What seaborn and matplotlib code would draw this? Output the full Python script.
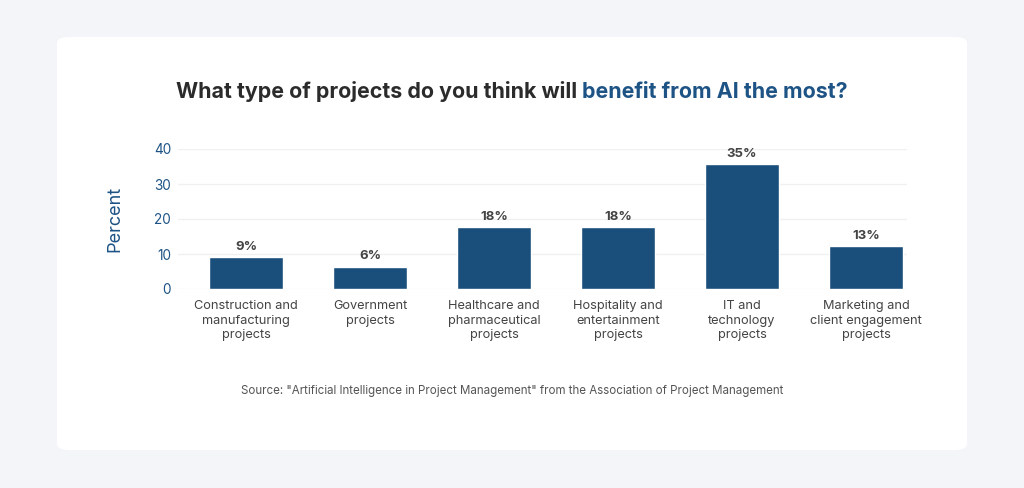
import matplotlib
matplotlib.use("Agg")
import matplotlib.pyplot as plt
import pandas as pd
import seaborn as sns
from matplotlib.patches import FancyBboxPatch

# Data
categories = [
    "Construction and\nmanufacturing\nprojects",
    "Government\nprojects",
    "Healthcare and\npharmaceutical\nprojects",
    "Hospitality and\nentertainment\nprojects",
    "IT and\ntechnology\nprojects",
    "Marketing and\nclient engagement\nprojects",
]
percent = [9.1, 6.4, 17.7, 17.7, 35.6, 12.3]
value_labels = ["9%", "6%", "18%", "18%", "35%", "13%"]
y_ticks = [0, 10, 20, 30, 40]

df = pd.DataFrame({"Category": categories, "Percent": percent})

BAR = "#1b4f7b"
BLUE = "#1d5385"
DARK = "#2b2b2b"
GRAY = "#444444"

sns.set_style("white")
plt.rcParams["font.family"] = ["Inter", "DejaVu Sans"]

fig = plt.figure(figsize=(10.24, 4.88), dpi=100)
fig.patch.set_facecolor("#f4f5f9")

# White card behind the chart
card = FancyBboxPatch((57 / 1024, 1 - 450 / 488), 910 / 1024, 413 / 488,
                      boxstyle="round,pad=0,rounding_size=0.012",
                      transform=fig.transFigure, facecolor="white",
                      edgecolor="none", zorder=-5)
fig.patches.append(card)

ax = fig.add_axes([178 / 1024, 1 - 289 / 488, 729 / 1024, 140 / 488])
ax.set_zorder(2)
ax.patch.set_alpha(0)
sns.barplot(data=df, x="Category", y="Percent", color=BAR, width=0.6,
            saturation=1, ax=ax, zorder=3)
ax.set_xlim(-0.55, 5.33)
ax.set_ylim(0, 40)
ax.set_yticks(y_ticks)
ax.yaxis.grid(True, color="#f0f0f0", linewidth=1, zorder=0)
ax.set_axisbelow(True)
for s in ax.spines.values():
    s.set_visible(False)
ax.tick_params(axis="y", length=0, pad=5, labelsize=9.8, labelcolor=BLUE)
ax.tick_params(axis="x", length=0, pad=8, labelsize=9.2, labelcolor=GRAY)
for lbl in ax.get_xticklabels():
    lbl.set_linespacing(1.27)
ax.set_xlabel("")
ax.set_ylabel("Percent", fontsize=13, color=BLUE, labelpad=22)

for i, (v, lab) in enumerate(zip(percent, value_labels)):
    ax.text(i, v + 1.2, lab, ha="center", va="bottom", fontsize=9.5,
            fontweight="bold", color=GRAY)

# Two-coloured title
fig.canvas.draw()
r = fig.canvas.get_renderer()
t1 = fig.text(0, 1 - 92 / 488, "What type of projects do you think will ",
              fontsize=15.4, fontweight="bold", color=DARK, va="center")
t2 = fig.text(0, 1 - 92 / 488, "benefit from AI the most?",
              fontsize=15.4, fontweight="bold", color=BLUE, va="center")
w1 = t1.get_window_extent(r).width / fig.bbox.width
w2 = t2.get_window_extent(r).width / fig.bbox.width
x0 = 0.5 - (w1 + w2) / 2
t1.set_x(x0)
t2.set_x(x0 + w1)

fig.text(512 / 1024, 1 - 391 / 488,
         "Source: \"Artificial Intelligence in Project Management\" from the Association of Project Management",
         ha="center", va="center", fontsize=8.3, color="#555555")

fig.savefig("out.png", dpi=100, facecolor=fig.get_facecolor())
